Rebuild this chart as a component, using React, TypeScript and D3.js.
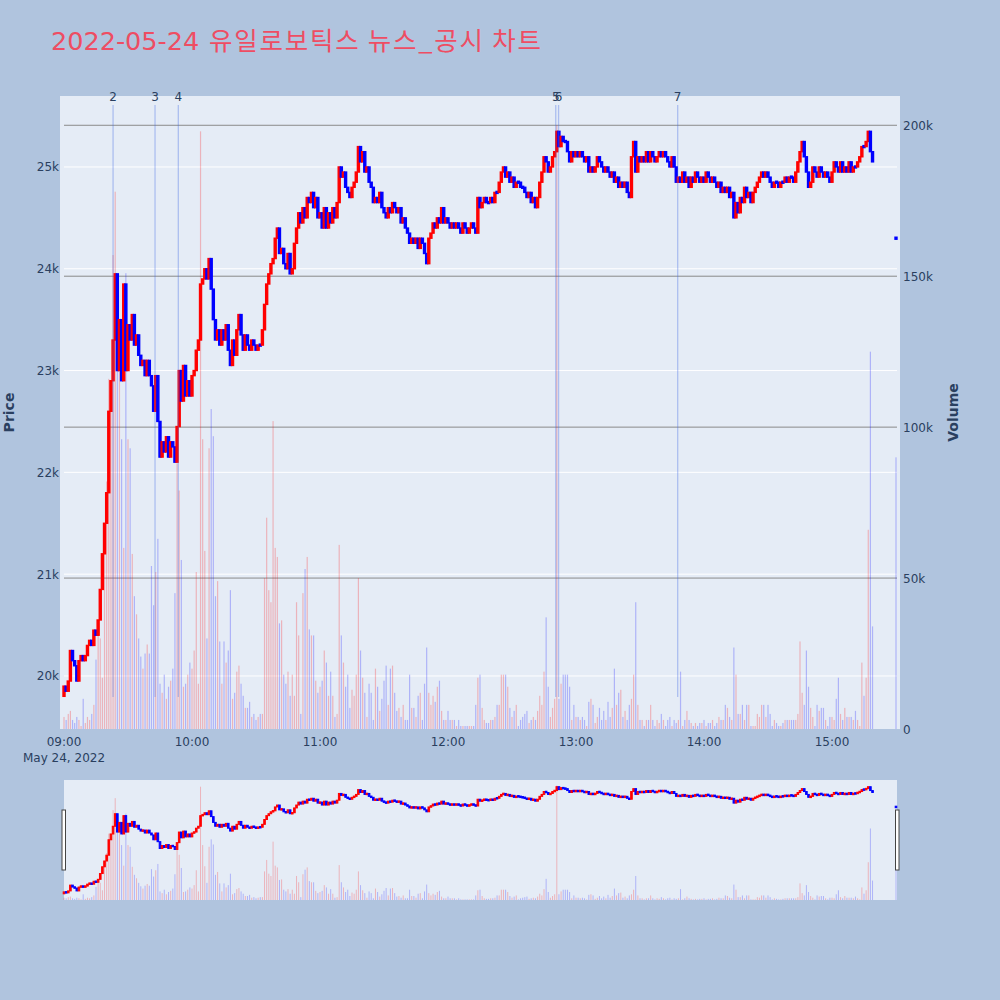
import React from "react";
import * as d3 from "d3";

// ---------- data ----------
const sessionDate = "2022-05-24";
const firstOpen = 19800;

// 1-minute closing prices from 09:00 (KRW)
const closes = [
  19900, 19850, 19950, 20250, 20150, 20100, 19950, 20150, 20200, 20150,
  20200, 20300, 20350, 20300, 20450, 20400, 20550, 20850, 21200, 21500,
  21800, 22600, 22900, 23300, 23950, 23000, 23500, 22900, 23850, 23000,
  23450, 23300, 23550, 23250, 23350, 23150, 23050, 23100, 22950, 23100,
  22950, 22850, 22600, 22950, 22500, 22150, 22300, 22200, 22350, 22150,
  22300, 22250, 22100, 22450, 23000, 22700, 23050, 22750, 22900, 22750,
  22950, 23000, 23200, 23300, 23850, 23900, 24000, 23900, 24100, 23800,
  23500, 23300, 23400, 23250, 23400, 23300, 23450, 23200, 23050, 23300,
  23150, 23400, 23550, 23350, 23200, 23350, 23250, 23200, 23300, 23250,
  23200, 23250, 23250, 23400, 23650, 23850, 23950, 24050, 24100, 24300,
  24400, 24150, 24200, 24050, 24000, 24150, 23950, 24000, 24250, 24400,
  24550, 24450, 24600, 24500, 24700, 24650, 24750, 24600, 24700, 24500,
  24550, 24400, 24600, 24400, 24550, 24450, 24600, 24500, 24650, 25000,
  24900, 24950, 24800, 24750, 24700, 24800, 24850, 24950, 25200, 25050,
  25150, 24950, 25000, 24850, 24800, 24650, 24700, 24650, 24750, 24600,
  24550, 24500, 24600, 24550, 24650, 24600, 24550, 24600, 24450, 24500,
  24400, 24350, 24250, 24300, 24250, 24300, 24200, 24300, 24250, 24150,
  24050, 24300, 24350, 24450, 24400, 24500, 24450, 24600, 24450, 24500,
  24450, 24400, 24450, 24400, 24450, 24400, 24350, 24450, 24400, 24350,
  24400, 24450, 24400, 24350, 24700, 24600, 24650, 24700, 24650, 24650,
  24700, 24650, 24750, 24750, 24850, 24950, 25000, 24900, 24950, 24850,
  24900, 24800, 24850, 24850, 24800, 24800, 24750, 24700, 24750, 24650,
  24700, 24600, 24700, 24850, 24950, 25100, 25050, 24950, 25000, 25100,
  25150, 25350, 25200, 25300, 25250, 25250, 25150, 25050, 25150, 25100,
  25150, 25100, 25150, 25100, 25050, 25100, 24950, 25000, 24950, 25000,
  25100, 25050, 25000, 24950, 25000, 24950, 24900, 24950, 24850, 24900,
  24800, 24850, 24800, 24850, 24750, 24700, 25100, 25250, 24950, 25100,
  25050, 25100, 25050, 25150, 25050, 25150, 25100, 25050, 25100, 25150,
  25100, 25150, 25100, 25050, 25000, 25100, 25000, 24850, 24900, 24850,
  24950, 24850, 24900, 24800, 24900, 24850, 24950, 24900, 24850, 24900,
  24850, 24950, 24900, 24850, 24900, 24850, 24800, 24850, 24750, 24800,
  24750, 24800, 24700, 24750, 24500, 24650, 24550, 24700, 24650, 24800,
  24700, 24750, 24650, 24750, 24800, 24850, 24900, 24950, 24900, 24950,
  24900, 24850, 24800, 24850, 24850, 24800, 24850, 24850, 24900, 24850,
  24900, 24900, 24850, 24950, 25050, 25150, 25250, 25100, 24950, 24800,
  24850, 25000, 24950, 24900, 25000, 24950, 24900, 24950, 24900, 24850,
  24950, 25050, 25000, 24950, 25050, 24950, 25000, 24950, 25050, 24950,
  25000, 25000, 25050, 25100, 25200, 25200, 25250, 25350, 25150, 25050,
];

// 1-minute volumes, thousands of shares
const volumesK = [
  4, 3, 5, 6, 3, 2, 4, 3, 1, 10,
  2, 4, 3, 5, 8, 23, 35, 30, 17, 61,
  82, 116, 110, 157, 178, 140, 122, 96, 60, 151,
  96, 93, 58, 44, 38, 30, 24, 20, 25, 28,
  25, 54, 41, 52, 63, 15, 12, 18, 10, 14,
  16, 20, 45, 88, 79, 56, 14, 15, 18, 22,
  20, 26, 52, 15, 198, 96, 59, 30, 93, 106,
  97, 44, 49, 29, 15, 29, 22, 26, 46, 10,
  12, 19, 21, 15, 11, 7, 7, 9, 4, 5,
  3, 4, 5, 5, 50, 70, 46, 42, 102, 60,
  57, 35, 36, 18, 15, 19, 11, 18, 11, 42,
  31, 5, 45, 53, 57, 33, 31, 31, 16, 12,
  14, 16, 26, 22, 11, 19, 11, 4, 5, 61,
  31, 22, 14, 18, 7, 13, 11, 18, 50, 26,
  17, 12, 4, 15, 12, 3, 20, 14, 6, 10,
  16, 21, 8, 20, 21, 12, 6, 7, 4, 8,
  3, 3, 18, 7, 7, 4, 11, 12, 3, 15,
  27, 12, 8, 11, 9, 14, 16, 6, 3, 3,
  6, 3, 3, 3, 1, 3, 1, 1, 1, 1,
  1, 1, 1, 8, 17, 18, 7, 3, 2, 2,
  3, 3, 4, 8, 8, 18, 18, 18, 14, 7,
  4, 6, 8, 1, 3, 4, 5, 6, 2, 3,
  4, 3, 6, 11, 8, 19, 37, 14, 4, 7,
  10, 200, 10, 15, 18, 18, 18, 14, 3, 8,
  4, 4, 3, 4, 3, 1, 9, 10, 8, 2,
  4, 7, 3, 6, 3, 9, 4, 7, 20, 8,
  12, 13, 4, 6, 3, 8, 10, 18, 42, 8,
  3, 3, 1, 3, 3, 8, 3, 1, 3, 2,
  5, 3, 1, 3, 4, 1, 3, 2, 3, 19,
  1, 3, 6, 3, 2, 1, 2, 1, 2, 2,
  3, 1, 2, 2, 3, 1, 2, 4, 3, 3,
  8, 7, 4, 3, 27, 18, 5, 5, 8, 3,
  8, 8, 1, 1, 1, 5, 4, 8, 8, 4,
  8, 5, 1, 3, 2, 1, 1, 2, 3, 3,
  3, 3, 3, 3, 5, 29, 12, 8, 26, 14,
  7, 4, 1, 8, 6, 7, 7, 3, 1, 4,
  4, 3, 10, 17, 5, 3, 7, 4, 4, 4,
  3, 6, 3, 1, 22, 11, 17, 66, 125, 34,
];

// closing single-price auction
const auctionTime = "15:30:00";
const auctionPrice = 24300;
const auctionVolumeK = 90;

// news / disclosure markers
const newsLabels = ["2", "3", "4", "5", "6", "7"];
const newsTimes = ["09:23:00", "09:42:40", "09:53:35", "12:50:30", "12:51:50", "13:47:40"];

const priceTicks = [20000, 21000, 22000, 23000, 24000, 25000];
const volumeTicks = [0, 50000, 100000, 150000, 200000];
const hourTicks = ["09:00", "10:00", "11:00", "12:00", "13:00", "14:00", "15:00"];

const titleDate = "2022-05-24";
const titleName = "유일로보틱스 뉴스_공시 차트";

// ---------- helpers ----------
const at = (hms: string) => new Date(`${sessionDate}T${hms.length === 5 ? hms + ":00" : hms}`);
const start = at("09:00:00");

type Candle = { t: Date; o: number; c: number; v: number };
const candles: Candle[] = closes.map((c, i) => ({
  t: d3.timeMinute.offset(start, i),
  o: i === 0 ? firstOpen : closes[i - 1],
  c,
  v: volumesK[i] * 1000,
}));
candles.push({ t: at(auctionTime), o: auctionPrice, c: auctionPrice, v: auctionVolumeK * 1000 });

const RED = "#ff0000";
const BLUE = "#0000ff";
const FONT = "DejaVu Sans, Verdana, sans-serif";
const TXT = "#2a3f5f";

const PLOT = { left: 64, right: 896, top: 96, bottom: 729 };
const SLIDER = { top: 780, bottom: 900 };

const x = d3.scaleTime().domain([start, at("15:30:00")]).range([PLOT.left, PLOT.right]);
const yP = d3.scaleLinear().domain([19479, 25697]).range([PLOT.bottom, PLOT.top]);
const yV = d3.scaleLinear().domain([0, 209700]).range([PLOT.bottom, PLOT.top]);
const sP = d3.scaleLinear().domain([19479, 25697]).range([SLIDER.bottom, SLIDER.top]);
const sV = d3.scaleLinear().domain([0, 209700]).range([SLIDER.bottom, SLIDER.top]);

const kfmt = (v: number) => (v === 0 ? "0" : d3.format("~s")(v));

function Candles({ py, w, minH, sw }: { py: d3.ScaleLinear<number, number>; w: number; minH: number; sw: number }) {
  return (
    <g>
      {candles.map((d, i) => {
        const up = d.c > d.o;
        const y0 = py(Math.max(d.o, d.c));
        const y1 = py(Math.min(d.o, d.c));
        const h = Math.max(minH, y1 - y0);
        const cx = x(d.t);
        const col = up ? RED : BLUE;
        return (
          <rect key={i} x={cx - w / 2} y={(y0 + y1) / 2 - h / 2} width={w} height={h} fill={col} stroke={col} strokeWidth={sw} />
        );
      })}
    </g>
  );
}

function Volumes({ vy, w }: { vy: d3.ScaleLinear<number, number>; w: number }) {
  return (
    <g>
      {candles.map((d, i) => {
        const up = d.c > d.o;
        const y0 = vy(d.v);
        const y1 = vy(0);
        return (
          <rect key={i} x={x(d.t) - w / 2} y={y0} width={w} height={Math.max(0.5, y1 - y0)} fill={up ? RED : BLUE} fillOpacity={0.24} />
        );
      })}
    </g>
  );
}

export default function App() {
  return (
    <svg width={1000} height={1000} style={{ position: "absolute", left: 0, top: 0 }} fontFamily={FONT}>
      <rect x={0} y={0} width={1000} height={1000} fill="#b0c4de" />

      {/* title */}
      <text y={50} fontSize={25.5} fill="#ee4d63">
        <tspan x={51} fontFamily="DejaVu Sans">{titleDate}</tspan>
        <tspan x={209} fontFamily="Noto Sans CJK KR" textLength={332} lengthAdjust="spacing">{titleName}</tspan>
      </text>

      {/* main plot */}
      <rect x={60} y={PLOT.top} width={840} height={PLOT.bottom - PLOT.top} fill="#e5ecf6" />
      {priceTicks.map((p) => (
        <line key={p} x1={PLOT.left} x2={897} y1={yP(p)} y2={yP(p)} stroke="#ffffff" strokeWidth={1} />
      ))}
      {volumeTicks.filter((v) => v > 0).map((v) => (
        <line key={v} x1={PLOT.left} x2={897} y1={yV(v)} y2={yV(v)} stroke="#8a8a8a" strokeWidth={1} />
      ))}

      <Volumes vy={yV} w={1.2} />
      <Candles py={yP} w={2} minH={2} sw={1.4} />

      {/* news markers */}
      {newsTimes.map((t, i) => {
        const nx = x(at(t));
        return (
          <g key={i}>
            <line x1={nx} x2={nx} y1={105} y2={697} stroke="#4169e1" strokeOpacity={0.35} strokeWidth={1.3} />
            <text x={nx} y={101} fontSize={12} fill={TXT} textAnchor="middle">{newsLabels[i]}</text>
          </g>
        );
      })}

      {/* left price axis */}
      {priceTicks.map((p) => (
        <text key={p} x={59} y={yP(p) + 4.5} fontSize={12} fill={TXT} textAnchor="end">{kfmt(p)}</text>
      ))}
      <text transform={`translate(14,${(PLOT.top + PLOT.bottom) / 2}) rotate(-90)`} fontSize={14} fontWeight="bold" fill={TXT} textAnchor="middle">Price</text>

      {/* right volume axis */}
      {volumeTicks.map((v) => (
        <text key={v} x={903} y={yV(v) + 4.5} fontSize={12} fill={TXT} textAnchor="start">{kfmt(v)}</text>
      ))}
      <text transform={`translate(958,${(PLOT.top + PLOT.bottom) / 2}) rotate(-90)`} fontSize={14} fontWeight="bold" fill={TXT} textAnchor="middle">Volume</text>

      {/* x axis */}
      {hourTicks.map((h, i) => (
        <text key={h} x={x(at(h))} y={746} fontSize={12} fill={TXT} textAnchor="middle">
          {h}
          {i === 0 ? <tspan x={x(at(h))} dy={16}>May 24, 2022</tspan> : null}
        </text>
      ))}

      {/* range slider */}
      <rect x={PLOT.left} y={SLIDER.top} width={897 - PLOT.left} height={SLIDER.bottom - SLIDER.top} fill="#e5ecf6" />
      <Volumes vy={sV} w={1} />
      <Candles py={sP} w={1.6} minH={1.5} sw={1} />
      <rect x={62} y={810} width={3.5} height={60} fill="#ffffff" stroke="#444" strokeWidth={1} />
      <rect x={895.5} y={810} width={3.5} height={60} fill="#ffffff" stroke="#444" strokeWidth={1} />
    </svg>
  );
}
